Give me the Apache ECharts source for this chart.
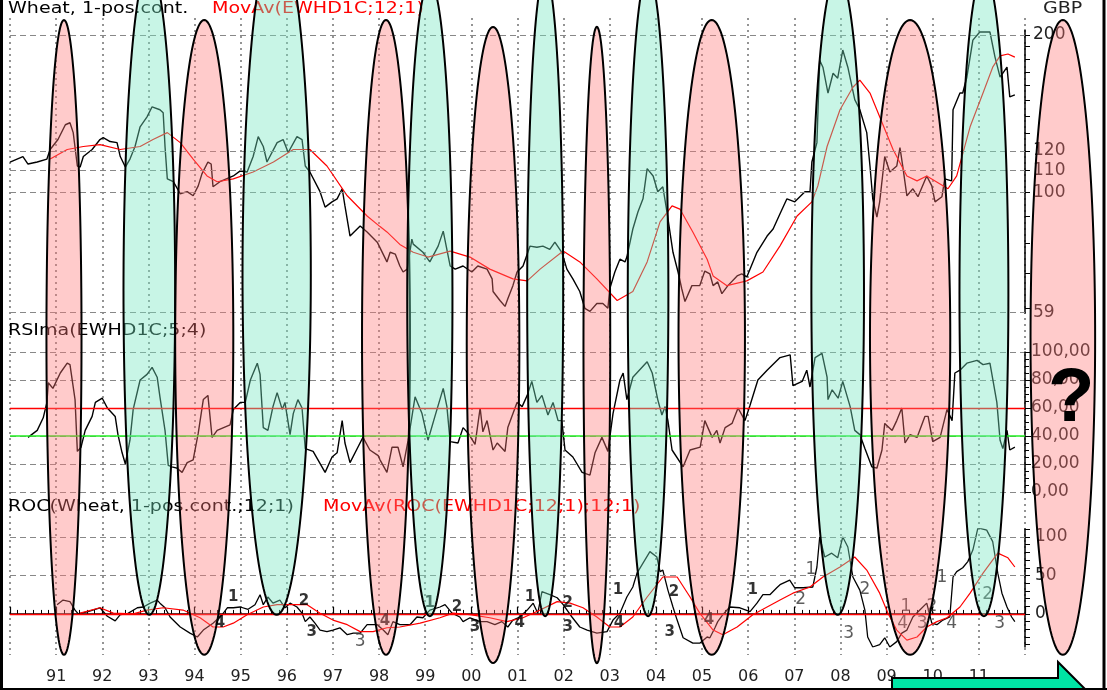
<!DOCTYPE html>
<html><head><meta charset="utf-8">
<script src="https://cdn.jsdelivr.net/npm/echarts@6.0.0/dist/echarts.min.js"></script>
<style>html,body{margin:0;padding:0;background:#fff}#c{width:1107px;height:690px}</style>
</head><body><div id="c"></div>
<script>
// ---------- data ----------
const wheatPrice = [[1990.00,114.3],[1990.28,117.1],[1990.39,113.3],[1990.59,114.3],[1990.80,115.8],[1990.87,120.8],[1991.04,126.2],[1991.20,134.7],[1991.30,135.9],[1991.37,130.1],[1991.46,112.3],[1991.52,111.8],[1991.59,117.1],[1991.78,120.8],[1991.95,126.2],[1992.02,127.3],[1992.17,125.1],[1992.32,124.5],[1992.39,117.1],[1992.50,111.8],[1992.60,115.8],[1992.71,122.4],[1992.82,133.5],[1992.97,139.5],[1993.08,145.8],[1993.25,143.9],[1993.32,142.0],[1993.36,122.4],[1993.41,106.1],[1993.54,104.8],[1993.69,99.4],[1993.84,100.3],[1993.97,98.5],[1994.08,102.9],[1994.16,108.5],[1994.29,114.3],[1994.36,113.3],[1994.40,102.5],[1994.55,104.8],[1994.84,107.5],[1994.99,109.9],[1995.14,109.4],[1995.27,117.1],[1995.38,127.8],[1995.49,122.4],[1995.57,114.3],[1995.79,124.5],[1995.92,126.2],[1996.03,119.2],[1996.22,127.8],[1996.33,126.2],[1996.40,112.3],[1996.50,109.4],[1996.72,100.3],[1996.83,93.7],[1996.98,95.9],[1997.09,97.2],[1997.20,101.6],[1997.26,94.2],[1997.37,82.5],[1997.59,86.2],[1997.74,84.0],[1997.96,80.3],[1998.17,73.6],[1998.24,76.8],[1998.35,76.2],[1998.45,72.3],[1998.52,70.4],[1998.61,71.3],[1998.71,81.4],[1998.74,79.6],[1998.95,76.8],[1999.10,73.6],[1999.28,78.9],[1999.39,84.3],[1999.54,72.3],[1999.65,71.3],[1999.82,72.3],[2000.01,70.4],[2000.14,72.3],[2000.34,71.3],[2000.45,68.3],[2000.47,64.6],[2000.62,62.1],[2000.73,60.5],[2000.79,62.6],[2000.90,66.3],[2000.99,70.4],[2001.12,72.3],[2001.27,78.9],[2001.42,78.5],[2001.55,78.9],[2001.70,77.8],[2001.81,80.3],[2001.96,76.8],[2002.07,71.3],[2002.20,68.3],[2002.35,64.6],[2002.46,60.0],[2002.57,59.2],[2002.72,61.3],[2002.85,61.3],[2002.96,60.0],[2003.00,65.4],[2003.11,70.4],[2003.22,74.5],[2003.33,73.6],[2003.37,75.2],[2003.50,85.1],[2003.61,91.7],[2003.72,97.2],[2003.81,111.0],[2003.94,107.5],[2004.04,100.3],[2004.15,102.5],[2004.24,91.7],[2004.37,76.8],[2004.48,70.4],[2004.56,65.4],[2004.63,61.8],[2004.78,66.3],[2004.95,66.3],[2005.06,70.7],[2005.17,69.8],[2005.24,66.3],[2005.34,67.4],[2005.43,64.0],[2005.56,66.3],[2005.76,69.2],[2005.86,69.8],[2005.97,68.9],[2006.19,76.8],[2006.41,82.5],[2006.54,85.1],[2006.69,91.0],[2006.84,97.2],[2007.01,95.9],[2007.23,100.3],[2007.34,100.3],[2007.38,114.3],[2007.49,124.5],[2007.55,179.0],[2007.62,173.6],[2007.73,154.9],[2007.84,169.0],[2007.94,165.4],[2008.05,187.2],[2008.16,173.6],[2008.31,150.5],[2008.42,143.9],[2008.57,130.1],[2008.64,112.3],[2008.70,97.2],[2008.79,89.7],[2008.85,95.9],[2008.96,117.1],[2009.07,109.4],[2009.22,112.3],[2009.29,121.8],[2009.35,112.3],[2009.44,98.5],[2009.57,101.6],[2009.68,98.1],[2009.87,107.5],[2009.98,102.9],[2010.05,95.9],[2010.20,98.1],[2010.26,106.1],[2010.41,105.2],[2010.44,143.9],[2010.59,154.9],[2010.65,154.9],[2010.74,166.1],[2010.87,195.6],[2011.02,202.7],[2011.24,202.7],[2011.35,181.5],[2011.46,166.1],[2011.61,173.6],[2011.67,152.3],[2011.78,153.6]];

const wheatMA = [[1990.87,115.8],[1991.24,120.8],[1991.59,122.4],[1991.95,123.4],[1992.39,120.8],[1992.82,122.4],[1993.10,126.2],[1993.41,130.1],[1993.69,124.5],[1993.97,115.8],[1994.27,107.5],[1994.49,104.8],[1994.84,106.1],[1995.27,109.4],[1995.71,114.3],[1996.14,120.8],[1996.50,120.8],[1996.87,112.3],[1997.31,98.5],[1997.74,90.1],[1998.02,86.0],[1998.17,84.0],[1998.45,79.5],[1998.74,76.8],[1999.06,75.2],[1999.54,77.2],[1999.97,75.2],[2000.40,71.3],[2000.90,68.3],[2001.21,67.7],[2001.49,71.3],[2001.99,77.2],[2002.35,73.6],[2002.72,68.3],[2003.16,62.1],[2003.50,64.6],[2003.81,73.6],[2004.09,87.8],[2004.35,94.2],[2004.52,92.9],[2004.80,84.0],[2005.11,74.5],[2005.24,69.2],[2005.54,66.3],[2005.97,67.7],[2006.32,70.4],[2006.69,79.0],[2007.06,90.1],[2007.38,95.9],[2007.51,102.9],[2007.71,122.4],[2007.99,143.9],[2008.27,158.9],[2008.42,164.0],[2008.64,154.9],[2008.85,139.5],[2009.14,120.8],[2009.44,107.5],[2009.66,105.2],[2009.87,107.5],[2010.15,103.9],[2010.33,101.6],[2010.52,107.5],[2010.81,133.5],[2011.09,154.9],[2011.30,173.6],[2011.46,182.5],[2011.63,184.0],[2011.78,181.5]];

const rsiValues = [[1990.39,39],[1990.59,44],[1990.72,53],[1990.80,64],[1990.83,78],[1990.93,74],[1991.09,85],[1991.24,92],[1991.30,91],[1991.41,66],[1991.46,29],[1991.54,32],[1991.63,44],[1991.78,54],[1991.85,64],[1992.00,67],[1992.11,60],[1992.28,54],[1992.34,41],[1992.43,28],[1992.50,20],[1992.60,37],[1992.67,59],[1992.82,80],[1992.97,84],[1993.08,89],[1993.19,82],[1993.25,68],[1993.36,44],[1993.43,19],[1993.51,18],[1993.62,17],[1993.73,14],[1993.84,21],[1993.97,23],[1994.08,42],[1994.19,66],[1994.29,69],[1994.38,39],[1994.49,44],[1994.77,48],[1994.84,59],[1994.99,64],[1995.10,64],[1995.21,80],[1995.36,92],[1995.42,84],[1995.49,46],[1995.59,44],[1995.70,61],[1995.79,71],[1995.90,59],[1995.96,64],[1996.07,41],[1996.14,56],[1996.24,66],[1996.33,60],[1996.40,31],[1996.57,29],[1996.83,14],[1996.98,25],[1997.09,28],[1997.20,51],[1997.26,35],[1997.37,21],[1997.54,32],[1997.65,39],[1997.80,30],[1997.98,26],[1998.02,23],[1998.17,14],[1998.28,32],[1998.41,32],[1998.52,18],[1998.63,37],[1998.78,68],[1998.93,56],[1999.06,37],[1999.21,54],[1999.39,74],[1999.47,61],[1999.54,36],[1999.71,35],[1999.82,46],[1999.93,42],[2000.08,34],[2000.19,60],[2000.25,43],[2000.34,51],[2000.47,30],[2000.56,35],[2000.73,29],[2000.79,46],[2000.99,64],[2001.10,61],[2001.21,69],[2001.31,79],[2001.42,64],[2001.53,69],[2001.66,55],[2001.77,64],[2001.88,51],[2001.96,51],[2002.03,30],[2002.20,25],[2002.40,14],[2002.57,12],[2002.68,28],[2002.83,39],[2002.96,29],[2003.07,56],[2003.22,80],[2003.29,85],[2003.37,66],[2003.50,82],[2003.81,93],[2003.92,85],[2004.04,66],[2004.13,55],[2004.20,61],[2004.26,51],[2004.35,30],[2004.59,18],[2004.74,30],[2004.96,32],[2005.06,51],[2005.22,39],[2005.32,44],[2005.39,35],[2005.50,46],[2005.65,49],[2005.78,60],[2005.93,51],[2006.04,62],[2006.21,80],[2006.41,87],[2006.69,96],[2006.91,98],[2006.97,76],[2007.17,79],[2007.27,87],[2007.34,75],[2007.45,96],[2007.60,99],[2007.71,82],[2007.73,66],[2007.82,73],[2007.95,67],[2008.05,79],[2008.21,61],[2008.31,44],[2008.42,41],[2008.53,31],[2008.68,18],[2008.79,17],[2008.90,30],[2008.96,49],[2009.12,44],[2009.22,51],[2009.33,60],[2009.40,35],[2009.51,41],[2009.66,39],[2009.83,54],[2009.90,54],[2010.00,36],[2010.16,39],[2010.31,59],[2010.42,51],[2010.48,85],[2010.59,87],[2010.74,92],[2010.96,94],[2011.09,91],[2011.24,92],[2011.39,64],[2011.46,37],[2011.52,31],[2011.61,44],[2011.67,30],[2011.78,32]];

const rocValues = [[1991.02,12],[1991.15,18],[1991.30,16],[1991.41,5],[1991.48,0],[1991.69,3],[1991.95,8],[1992.11,-3],[1992.28,-9],[1992.39,-1],[1992.54,0],[1992.76,8],[1992.89,9],[1993.04,14],[1993.19,18],[1993.25,14],[1993.36,8],[1993.47,-4],[1993.69,-17],[1993.90,-25],[1994.06,-30],[1994.19,-21],[1994.40,-12],[1994.60,-1],[1994.71,8],[1994.84,8],[1994.99,9],[1995.16,6],[1995.31,12],[1995.42,25],[1995.49,12],[1995.59,22],[1995.70,14],[1995.85,18],[1995.96,8],[1996.07,14],[1996.22,9],[1996.33,1],[1996.40,-10],[1996.50,-4],[1996.61,-12],[1996.72,-21],[1996.87,-23],[1997.00,-21],[1997.15,-18],[1997.31,-27],[1997.44,-25],[1997.59,-25],[1997.74,-14],[1997.96,-14],[1998.09,-21],[1998.19,-27],[1998.30,-10],[1998.45,-14],[1998.67,-14],[1998.82,-4],[1998.95,-5],[1999.10,5],[1999.32,9],[1999.43,12],[1999.58,1],[1999.75,-4],[1999.82,-10],[1999.97,-5],[2000.19,-10],[2000.34,-10],[2000.51,-14],[2000.66,-10],[2000.79,-17],[2000.90,-8],[2001.05,-4],[2001.21,5],[2001.34,14],[2001.44,1],[2001.53,29],[2001.70,25],[2001.86,21],[2001.99,12],[2002.18,-4],[2002.35,-17],[2002.51,-21],[2002.72,-25],[2002.94,-23],[2003.07,-8],[2003.22,1],[2003.37,22],[2003.50,35],[2003.59,53],[2003.72,66],[2003.87,81],[2004.02,74],[2004.09,55],[2004.15,57],[2004.26,31],[2004.37,9],[2004.46,-8],[2004.59,-31],[2004.80,-38],[2004.95,-38],[2005.11,-30],[2005.17,-31],[2005.28,-18],[2005.34,-10],[2005.45,-1],[2005.60,9],[2005.82,8],[2006.04,3],[2006.19,14],[2006.32,25],[2006.47,25],[2006.62,34],[2006.69,38],[2006.90,44],[2007.01,34],[2007.19,34],[2007.40,35],[2007.49,61],[2007.55,100],[2007.66,74],[2007.81,79],[2007.94,73],[2008.05,100],[2008.16,87],[2008.27,48],[2008.42,31],[2008.53,5],[2008.59,-30],[2008.70,-43],[2008.85,-40],[2008.96,-31],[2009.07,-43],[2009.22,-36],[2009.33,-25],[2009.44,-21],[2009.57,-4],[2009.72,5],[2009.87,14],[2009.98,-12],[2010.09,-14],[2010.22,-8],[2010.37,-4],[2010.44,48],[2010.52,55],[2010.65,60],[2010.76,68],[2010.87,83],[2010.98,112],[2011.17,109],[2011.30,94],[2011.41,53],[2011.50,27],[2011.61,9],[2011.71,-4],[2011.78,-10]];

const rocMA = [[1991.52,1],[1991.95,8],[1992.24,1],[1992.67,0],[1992.97,5],[1993.32,8],[1993.75,5],[1994.12,-5],[1994.40,-17],[1994.62,-17],[1994.84,-12],[1995.14,-1],[1995.49,9],[1995.79,12],[1996.22,12],[1996.44,12],[1996.72,1],[1997.00,-8],[1997.31,-14],[1997.59,-23],[1997.87,-23],[1998.17,-18],[1998.45,-17],[1998.89,-12],[1999.32,-5],[1999.60,1],[1999.97,-1],[2000.40,-5],[2000.77,-10],[2001.12,-5],[2001.49,5],[2001.86,16],[2002.14,14],[2002.42,8],[2002.72,-4],[2003.00,-17],[2003.22,-17],[2003.50,-4],[2003.81,22],[2004.15,48],[2004.46,48],[2004.74,22],[2004.95,1],[2005.24,-21],[2005.45,-27],[2005.76,-17],[2006.10,-1],[2006.41,9],[2006.69,18],[2006.97,27],[2007.34,35],[2007.62,48],[2007.99,61],[2008.31,74],[2008.57,57],[2008.85,27],[2009.03,1],[2009.22,-21],[2009.44,-34],[2009.66,-30],[2009.87,-17],[2010.09,-10],[2010.31,-5],[2010.59,9],[2010.81,27],[2011.09,53],[2011.41,79],[2011.63,73],[2011.78,61]];

// axis tick / label values
const yearRange = [1990, 2012];
const priceRange = [58.77, 204.5];
const priceLabels = [200, 120, 110, 100, 59];
const priceGridLines = [200, 120, 110, 100, 59];
const priceTicks = [60,70,80,90,100,110,120,130,140,150,160,170,180,190,200];
const rsiLevels = [60, 40];
const rocRange = [-43, 110.4];
const rocLabels = [0, 50, 100];
const rocTicks = [-40,-30,-20,-10,0,10,20,30,40,50,60,70,80,90,100,110];
const rocGridLines = [50, 100];

// wave count annotations in ROC panel [year, roc, text]
const countNotesBold = [[1994.84,22,'1'],[1994.55,-12,'4'],[1996.37,17,'2'],[1996.54,-23,'3'],[1998.13,-9,'4'],[1999.10,14,'1'],[1999.69,9,'2'],[2000.08,-17,'3'],[2001.05,-12,'4'],[2001.27,22,'1'],[2002.09,14,'2'],[2002.09,-17,'3'],[2003.18,31,'1'],[2003.20,-12,'4'],[2004.39,29,'2'],[2004.30,-23,'3'],[2005.15,-8,'4'],[2006.10,31,'1']];
const countNotesPlain = [[1997.59,-36,'3'],[2007.14,18,'2'],[2007.36,57,'1'],[2008.18,-25,'3'],[2008.53,31,'2'],[2009.42,9,'1'],[2009.35,-12,'4'],[2009.98,10,'2'],[2009.77,-12,'3'],[2010.41,-12,'4'],[2010.20,47,'1'],[2011.19,25,'2'],[2011.45,-12,'3']];

// cycle ellipses: centre year, half width (years), top & bottom (% of chart height), kind (0 = low/pink, 1 = high/green)
const ellipseCenters = [1991.17,1993.02,1994.21,1995.78,1998.15,1999.10,2000.47,2001.60,2002.72,2003.83,2005.21,2007.94,2009.51,2011.11,2012.82];
const ellipseHalfWidths = [0.38,0.56,0.63,0.74,0.52,0.49,0.57,0.39,0.29,0.44,0.72,0.57,0.87,0.53,0.70];
const ellipseTops = [2.9,-4.8,2.9,-9.7,2.9,-2.6,3.9,-3.8,3.9,-3.8,2.9,-3.9,2.9,-4.1,2.9];
const ellipseBottoms = [94.9,89.1,94.9,89.1,94.9,89.3,96.1,89.3,96.1,89.3,94.9,89.1,94.9,89.3,94.9];
const ellipseKinds = [0,1,0,1,0,1,0,1,0,1,0,1,0,1,0];

// ---------- chart ----------
const FONT = '"DejaVu Sans", "Liberation Sans", sans-serif';
const dashGray = {color:'#888', type:[6,4], width:1.2};
const G = {left:10, right:82};
const chart = echarts.init(document.getElementById('c'), null, {renderer:'canvas'});

const ellipseData = ellipseCenters.map((c,i)=>[c, ellipseHalfWidths[i], ellipseTops[i], ellipseBottoms[i], ellipseKinds[i]]);

function hiddenX(gi){ return {type:'value', gridIndex:gi, min:yearRange[0], max:yearRange[1], show:false}; }
function title(text, x, y, color){
  return {type:'text', x:x, y:y, scaleX:1.27, z:1, style:{text:text, fill:color, font:'15px '+FONT}};
}

const option = {
  animation:false,
  textStyle:{fontFamily:FONT},
  grid:[
    {left:G.left, right:G.right, top:30, height:283},
    {left:G.left, right:G.right, top:352, height:140},
    {left:G.left, right:G.right, top:529, height:118},
    {left:G.left, right:G.right, top:18, height:637},
    {left:G.left, right:G.right, top:0, height:690}
  ],
  xAxis:[
    hiddenX(0), hiddenX(1),
    {type:'value', gridIndex:2, min:yearRange[0], max:yearRange[1], interval:1, offset:13,
      axisLine:{show:true, lineStyle:{color:'#000', width:1.5}},
      axisTick:{show:true, inside:true, length:7, lineStyle:{color:'#000', width:1.2}},
      minorTick:{show:true, splitNumber:6, length:4, lineStyle:{color:'#000', width:1}},
      axisLabel:{show:true, margin:9, fontSize:16, color:'#222', fontFamily:FONT,
        formatter:v=> (v===yearRange[0]||v===yearRange[1]) ? '' : String(v%100).padStart(2,'0')},
      splitLine:{show:false}},
    {type:'value', gridIndex:3, min:yearRange[0], max:yearRange[1], interval:1,
      axisLine:{show:false}, axisTick:{show:false}, axisLabel:{show:false},
      splitLine:{show:true, lineStyle:{color:'#7a7a7a', type:[2,4], width:1.6}}},
    hiddenX(4)
  ],
  yAxis:[
    {type:'log', logBase:10, gridIndex:0, min:priceRange[0], max:priceRange[1], show:false},
    {type:'value', gridIndex:0, position:'right', min:Math.log10(priceRange[0]), max:Math.log10(priceRange[1]),
      axisLine:{show:true, lineStyle:{color:'#000', width:1.5}},
      axisTick:{show:true, length:5, customValues:priceTicks.map(Math.log10), lineStyle:{color:'#000'}},
      axisLabel:{show:true, margin:8, fontSize:17, color:'#222', fontFamily:FONT,
        customValues:priceLabels.map(Math.log10), formatter:v=>String(Math.round(Math.pow(10,v)))},
      splitLine:{show:false}},
    {type:'value', gridIndex:1, position:'right', min:0, max:100, interval:20,
      axisLine:{show:true, lineStyle:{color:'#000', width:1.5}},
      axisTick:{show:true, length:6, lineStyle:{color:'#000'}},
      minorTick:{show:true, splitNumber:4, length:4, lineStyle:{color:'#000'}},
      axisLabel:{show:true, margin:6, fontSize:17, color:'#222', fontFamily:FONT,
        formatter:v=>v.toFixed(2).replace('.',',')},
      splitLine:{show:true, lineStyle:dashGray}},
    {type:'value', gridIndex:2, position:'right', min:rocRange[0], max:rocRange[1],
      axisLine:{show:true, lineStyle:{color:'#000', width:1.5}},
      axisTick:{show:true, length:5, customValues:rocTicks, lineStyle:{color:'#000'}},
      axisLabel:{show:true, margin:10, fontSize:17, color:'#222', fontFamily:FONT, customValues:rocLabels},
      splitLine:{show:false}},
    {type:'value', gridIndex:3, min:0, max:1, show:false},
    {type:'value', gridIndex:4, min:0, max:100, inverse:true, show:false}
  ],
  series:[
    {type:'line', name:'bg', xAxisIndex:3, yAxisIndex:4, data:[], silent:true},
    {type:'line', name:'Wheat', xAxisIndex:0, yAxisIndex:0, data:wheatPrice, showSymbol:false, z:3,
      lineStyle:{color:'#000', width:1.4},
      markLine:{silent:true, symbol:['none','none'], label:{show:false}, lineStyle:dashGray,
        data:priceGridLines.map(v=>({yAxis:v}))}},
    {type:'line', name:'MovAv', xAxisIndex:0, yAxisIndex:0, data:wheatMA, showSymbol:false, z:4,
      lineStyle:{color:'#ff0000', width:1.2}},
    {type:'line', name:'RSIma', xAxisIndex:1, yAxisIndex:2, data:rsiValues, showSymbol:false, z:4,
      lineStyle:{color:'#000', width:1.4},
      markLine:{silent:true, symbol:['none','none'], label:{show:false},
        data:[{yAxis:rsiLevels[0], lineStyle:{color:'#ff0000', type:'solid', width:1.3}},
              {yAxis:rsiLevels[1], lineStyle:{color:'#22ee22', type:'solid', width:1.6}}]}},
    {type:'line', name:'ROC', xAxisIndex:2, yAxisIndex:3, data:rocValues, showSymbol:false, z:3,
      lineStyle:{color:'#000', width:1.3},
      markLine:{silent:true, symbol:['none','none'], label:{show:false},
        data:rocGridLines.map(v=>({yAxis:v, lineStyle:dashGray})).concat([{yAxis:0, lineStyle:{color:'#ff0000', type:'solid', width:1.3}}])}},
    {type:'line', name:'ROC MA', xAxisIndex:2, yAxisIndex:3, data:rocMA, showSymbol:false, z:4,
      lineStyle:{color:'#ff0000', width:1.2}},
    {type:'scatter', name:'countsBold', xAxisIndex:2, yAxisIndex:3, symbolSize:0, z:6,
      data:countNotesBold.map(n=>({value:[n[0],n[1]], name:n[2]})),
      label:{show:true, position:'inside', formatter:'{b}', fontSize:15, fontWeight:'bold', color:'#000', fontFamily:FONT}},
    {type:'scatter', name:'countsPlain', xAxisIndex:2, yAxisIndex:3, symbolSize:0, z:6,
      data:countNotesPlain.map(n=>({value:[n[0],n[1]], name:n[2]})),
      label:{show:true, position:'inside', formatter:'{b}', fontSize:17, color:'#333', fontFamily:FONT}},
    {type:'custom', name:'cycles', xAxisIndex:4, yAxisIndex:5, clip:false, z:10, silent:true,
      data:ellipseData,
      renderItem:function(params, api){
        const cx = api.value(0), hw = api.value(1), top = api.value(2), bot = api.value(3), kind = api.value(4);
        const pT = api.coord([cx, top]);
        const pB = api.coord([cx, bot]);
        const pR = api.coord([cx + hw, top]);
        const rx = pR[0] - pT[0];
        const ry = (pB[1] - pT[1]) / 2;
        const cy = (pT[1] + pB[1]) / 2;
        const pts = [];
        for (let i = 0; i < 160; i++) {
          const t = i / 160 * Math.PI * 2;
          pts.push([pT[0] + rx * Math.cos(t), cy + ry * Math.sin(t)]);
        }
        return {type:'polygon', shape:{points:pts},
          style:{fill: kind ? 'rgba(117,230,192,0.40)' : 'rgba(255,118,118,0.38)', stroke:'#000', lineWidth:2}};
      }}
  ],
  graphic:[
    title('Wheat, 1-pos.cont.', 8, 2, '#000'),
    title('MovAv(EWHD1C;12;1)', 212, 2, '#ff0000'),
    title('GBP', 1043, 2, '#222'),
    title('RSIma(EWHD1C;5;4)', 8, 324, '#000'),
    title('ROC(Wheat, 1-pos.cont.;12;1)', 8, 500, '#000'),
    title('MovAv(ROC(EWHD1C;12;1);12;1)', 323, 500, '#ff0000'),
    {type:'text', x:1048, y:362, z:30, style:{text:'?', fill:'#000', font:'bold 76px "Liberation Sans", Arial, sans-serif'}},
    {type:'polygon', z:30, shape:{points:[[892,678],[1058,678],[1058,662],[1100,704],[1058,746],[1058,730],[892,730]]},
      style:{fill:'#00e4a4', stroke:'#000', lineWidth:2}},
    {type:'line', z:30, shape:{x1:1.5,y1:0,x2:1.5,y2:690}, style:{stroke:'#000', lineWidth:3}},
    {type:'line', z:30, shape:{x1:1104,y1:0,x2:1104,y2:690}, style:{stroke:'#000', lineWidth:3}},
    {type:'line', z:30, shape:{x1:0,y1:689,x2:1107,y2:689}, style:{stroke:'#000', lineWidth:2}}
  ]
};
chart.setOption(option);
</script>
</body></html>
